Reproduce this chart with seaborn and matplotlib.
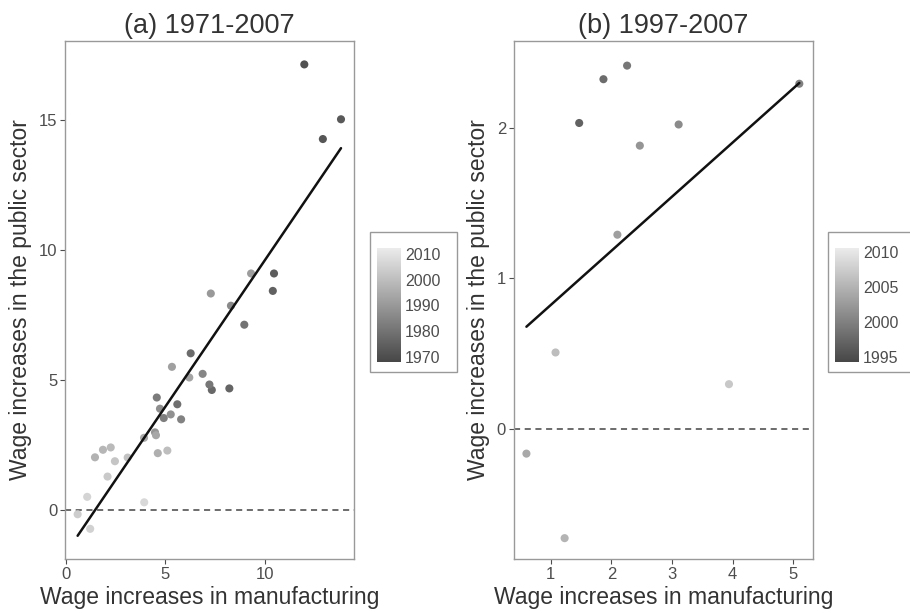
import numpy as np
import pandas as pd
import matplotlib
matplotlib.use("Agg")
import matplotlib.pyplot as plt
import seaborn as sns
from matplotlib.colors import LinearSegmentedColormap, Normalize
from matplotlib.cm import ScalarMappable
from matplotlib.patches import Rectangle

# data: yearly wage increases (%)
years = list(range(1971, 2008))
manufacturing = [11.97, 12.90, 13.81, 10.45, 10.39, 8.21, 7.33, 6.27, 5.60, 8.96,
                 7.21, 4.57, 4.92, 5.79, 6.87, 8.29, 4.73, 5.27, 4.48, 7.28,
                 9.30, 5.33, 6.20, 4.53, 3.93, 4.62, 1.47, 1.87, 2.26, 5.10,
                 3.11, 2.47, 2.10, 0.60, 1.23, 1.08, 3.94]
public_sector = [17.14, 14.27, 15.03, 9.10, 8.43, 4.68, 4.62, 6.03, 4.07, 7.13,
                 4.83, 4.33, 3.54, 3.49, 5.24, 7.86, 3.90, 3.68, 2.99, 8.33,
                 9.10, 5.51, 5.10, 2.88, 2.78, 2.19, 2.03, 2.32, 2.41, 2.29,
                 2.02, 1.88, 1.29, -0.16, -0.72, 0.51, 0.30]

df = pd.DataFrame({"year": years, "manuf": manufacturing, "public": public_sector})
df_b = df[df["year"] >= 1997]

sns.set_theme(style="white")
plt.rcParams["font.family"] = ["Liberation Sans", "DejaVu Sans"]

grey_cmap = LinearSegmentedColormap.from_list("greys_gg", ["#474747", "#ebebeb"])
text_col = "#333333"
tick_col = "#4d4d4d"

fig = plt.figure(figsize=(9.10, 6.13), dpi=100)
ax1 = fig.add_axes([0.0714, 0.0881, 0.318, 0.845])
ax2 = fig.add_axes([0.5645, 0.0881, 0.3292, 0.845])


def draw_panel(ax, data, norm, title, xlim, ylim, xticks, yticks):
    ax.axhline(0, color="#444444", linestyle=(0, (4, 3)), linewidth=1.1, zorder=1)
    sns.scatterplot(data=data, x="manuf", y="public", hue="year", palette=grey_cmap,
                    hue_norm=norm, s=34, linewidth=0, legend=False, ax=ax, zorder=2)
    sns.regplot(data=data, x="manuf", y="public", scatter=False, ci=None, ax=ax,
                line_kws={"color": "#111111", "linewidth": 1.8, "zorder": 3})
    ax.set_xlim(*xlim)
    ax.set_ylim(*ylim)
    ax.set_xticks(xticks)
    ax.set_yticks(yticks)
    ax.set_title(title, fontsize=19.5, color=text_col, pad=6)
    ax.set_xlabel("Wage increases in manufacturing", fontsize=16.5, color=text_col, labelpad=3)
    ax.set_ylabel("Wage increases in the public sector", fontsize=16.5, color=text_col, labelpad=5)
    ax.tick_params(axis="both", labelsize=12, colors=tick_col, length=3.5, width=0.8,
                   direction="out", bottom=True, left=True, pad=2)
    for sp in ax.spines.values():
        sp.set_color("#999999")
        sp.set_linewidth(1.0)


norm_a = Normalize(1968, 2012.2)
norm_b = Normalize(1994.3, 2010.5)

draw_panel(ax1, df, norm_a, "(a) 1971-2007", (-0.035, 14.48), (-1.88, 18.04),
           [0, 5, 10], [0, 5, 10, 15])
draw_panel(ax2, df_b, norm_b, "(b) 1997-2007", (0.39, 5.33), (-0.858, 2.573),
           [1, 2, 3, 4, 5], [0, 1, 2])


def draw_colorbar(x0, box_w, norm, ticks):
    fig.patches.append(Rectangle((x0 - 0.0073, 0.3936), box_w, 0.2284, transform=fig.transFigure,
                                 fill=False, edgecolor="#999999", linewidth=1.0))
    cax = fig.add_axes([x0, 0.41, 0.0264, 0.185])
    cb = fig.colorbar(ScalarMappable(norm=norm, cmap=grey_cmap), cax=cax, ticks=ticks)
    cb.outline.set_visible(False)
    cax.tick_params(direction="in", color="white", length=5, width=0.8, left=True, right=True,
                    labelleft=False, labelright=True, labelsize=11.5, labelcolor=tick_col, pad=3)


draw_colorbar(0.414, 0.0953, norm_a, [1970, 1980, 1990, 2000, 2010])
draw_colorbar(0.9176, 0.1, norm_b, [1995, 2000, 2005, 2010])

fig.savefig("out.png", dpi=100)
